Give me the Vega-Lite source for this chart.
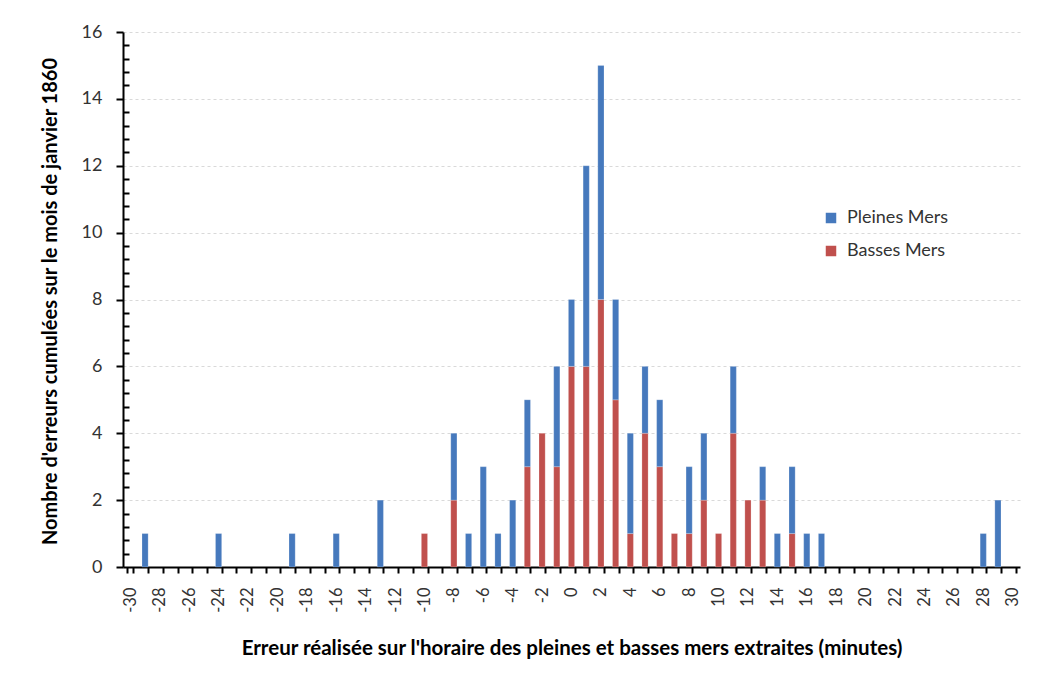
{
  "$schema": "https://vega.github.io/schema/vega-lite/v6.json",
  "autosize": {"type": "none"},
  "width": 897,
  "height": 535,
  "padding": {"left": 123, "top": 32, "right": 20, "bottom": 117},
  "background": "white",
  "config": {
    "view": {"stroke": null},
    "font": "Lato"
  },
  "data": {
    "values": [
      {"x": -29, "type": "Pleines Mers", "n": 1},
      {"x": -24, "type": "Pleines Mers", "n": 1},
      {"x": -19, "type": "Pleines Mers", "n": 1},
      {"x": -16, "type": "Pleines Mers", "n": 1},
      {"x": -13, "type": "Pleines Mers", "n": 2},
      {"x": -10, "type": "Basses Mers", "n": 1},
      {"x": -8, "type": "Basses Mers", "n": 2},
      {"x": -8, "type": "Pleines Mers", "n": 2},
      {"x": -7, "type": "Pleines Mers", "n": 1},
      {"x": -6, "type": "Pleines Mers", "n": 3},
      {"x": -5, "type": "Pleines Mers", "n": 1},
      {"x": -4, "type": "Pleines Mers", "n": 2},
      {"x": -3, "type": "Basses Mers", "n": 3},
      {"x": -3, "type": "Pleines Mers", "n": 2},
      {"x": -2, "type": "Basses Mers", "n": 4},
      {"x": -1, "type": "Basses Mers", "n": 3},
      {"x": -1, "type": "Pleines Mers", "n": 3},
      {"x": 0, "type": "Basses Mers", "n": 6},
      {"x": 0, "type": "Pleines Mers", "n": 2},
      {"x": 1, "type": "Basses Mers", "n": 6},
      {"x": 1, "type": "Pleines Mers", "n": 6},
      {"x": 2, "type": "Basses Mers", "n": 8},
      {"x": 2, "type": "Pleines Mers", "n": 7},
      {"x": 3, "type": "Basses Mers", "n": 5},
      {"x": 3, "type": "Pleines Mers", "n": 3},
      {"x": 4, "type": "Basses Mers", "n": 1},
      {"x": 4, "type": "Pleines Mers", "n": 3},
      {"x": 5, "type": "Basses Mers", "n": 4},
      {"x": 5, "type": "Pleines Mers", "n": 2},
      {"x": 6, "type": "Basses Mers", "n": 3},
      {"x": 6, "type": "Pleines Mers", "n": 2},
      {"x": 7, "type": "Basses Mers", "n": 1},
      {"x": 8, "type": "Basses Mers", "n": 1},
      {"x": 8, "type": "Pleines Mers", "n": 2},
      {"x": 9, "type": "Basses Mers", "n": 2},
      {"x": 9, "type": "Pleines Mers", "n": 2},
      {"x": 10, "type": "Basses Mers", "n": 1},
      {"x": 11, "type": "Basses Mers", "n": 4},
      {"x": 11, "type": "Pleines Mers", "n": 2},
      {"x": 12, "type": "Basses Mers", "n": 2},
      {"x": 13, "type": "Basses Mers", "n": 2},
      {"x": 13, "type": "Pleines Mers", "n": 1},
      {"x": 14, "type": "Pleines Mers", "n": 1},
      {"x": 15, "type": "Basses Mers", "n": 1},
      {"x": 15, "type": "Pleines Mers", "n": 2},
      {"x": 16, "type": "Pleines Mers", "n": 1},
      {"x": 17, "type": "Pleines Mers", "n": 1},
      {"x": 28, "type": "Pleines Mers", "n": 1},
      {"x": 29, "type": "Pleines Mers", "n": 2}
    ]
  },
  "mark": {"type": "bar", "stroke": "#ffffff", "strokeOpacity": 0.35, "strokeWidth": 0.6},
  "encoding": {
    "x": {
      "field": "x",
      "type": "ordinal",
      "scale": {
        "domain": [-30,-29,-28,-27,-26,-25,-24,-23,-22,-21,-20,-19,-18,-17,-16,-15,-14,-13,-12,-11,-10,-9,-8,-7,-6,-5,-4,-3,-2,-1,0,1,2,3,4,5,6,7,8,9,10,11,12,13,14,15,16,17,18,19,20,21,22,23,24,25,26,27,28,29,30],
        "paddingInner": 0.58,
        "paddingOuter": 0.29
      },
      "axis": {
        "title": "Erreur réalisée sur l'horaire des pleines et basses mers extraites (minutes)",
        "titleFont": "Lato",
        "titleFontSize": 20.5,
        "titleFontWeight": "bold",
        "titleColor": "#000000",
        "titleX": 448.5,
        "titleY": 81,
        "titleAlign": "center",
        "titleBaseline": "middle",
        "labelExpr": "datum.value % 2 === 0 ? datum.label : ''",
        "labelAngle": 270,
        "labelAlign": "right",
        "labelBaseline": "middle",
        "labelFontSize": 16.5,
        "labelColor": "#333333",
        "labelPadding": 14,
        "tickBand": "extent",
        "tickSize": 6,
        "tickWidth": 2,
        "tickColor": "#000000",
        "domainColor": "#000000",
        "domainWidth": 2,
        "grid": false
      }
    },
    "y": {
      "field": "n",
      "type": "quantitative",
      "stack": "zero",
      "scale": {"domain": [0, 16], "nice": false},
      "axis": {
        "title": "Nombre d'erreurs cumulées sur le mois de janvier 1860",
        "titleFont": "Lato",
        "titleFontSize": 20,
        "titleFontWeight": "bold",
        "titleColor": "#000000",
        "titleAngle": 270,
        "titleX": -73,
        "titleY": 269,
        "titleAlign": "center",
        "titleBaseline": "middle",
        "values": [0,0.4,0.8,1.2,1.6,2,2.4,2.8,3.2,3.6,4,4.4,4.8,5.2,5.6,6,6.4,6.8,7.2,7.6,8,8.4,8.8,9.2,9.6,10,10.4,10.8,11.2,11.6,12,12.4,12.8,13.2,13.6,14,14.4,14.8,15.2,15.6,16],
        "labelExpr": "datum.value % 2 === 0 ? format(datum.value, 'd') : ''",
        "labelFontSize": 18,
        "labelColor": "#333333",
        "labelPadding": 14,
        "tickSize": {"condition": {"test": "datum.value % 2 === 0", "value": 7}, "value": -6},
        "tickWidth": 2,
        "tickColor": "#000000",
        "domainColor": "#000000",
        "domainWidth": 2,
        "grid": true,
        "gridColor": "#d9d9d9",
        "gridDash": [3, 3],
        "gridWidth": 1,
        "gridOpacity": {"condition": {"test": "datum.value % 2 === 0 && datum.value > 0", "value": 1}, "value": 0}
      }
    },
    "color": {
      "field": "type",
      "type": "nominal",
      "scale": {"domain": ["Pleines Mers", "Basses Mers"], "range": ["#4679BD", "#C0504D"]},
      "legend": {
        "title": null,
        "orient": "none",
        "legendX": 699,
        "legendY": 177,
        "padding": 0,
        "symbolType": "square",
        "symbolSize": 110,
        "symbolStrokeWidth": 0,
        "labelFontSize": 18,
        "labelColor": "#333333",
        "labelOffset": 7,
        "rowPadding": 15
      }
    },
    "order": {"field": "type", "sort": "ascending"}
  }
}
